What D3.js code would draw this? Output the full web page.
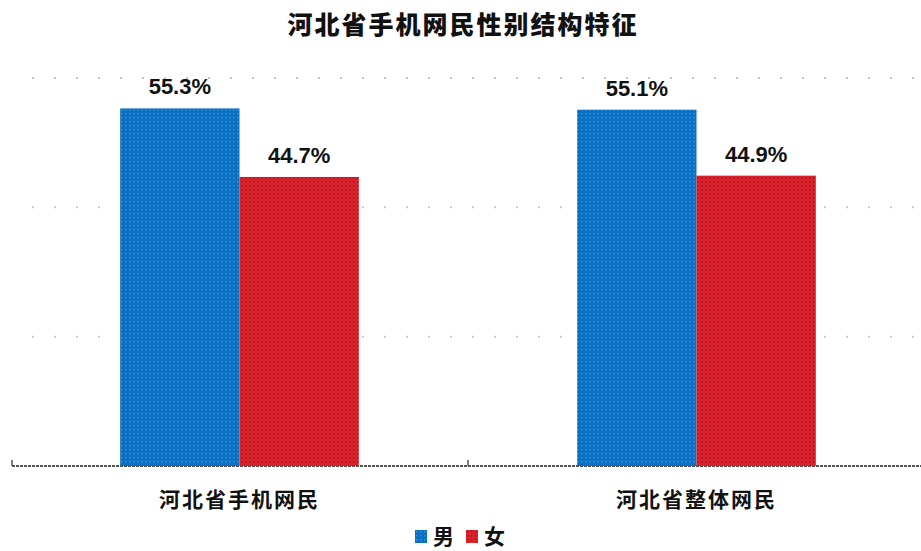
<!DOCTYPE html>
<html>
<head>
<meta charset="utf-8">
<script src="https://cdn.jsdelivr.net/npm/d3@7"></script>
<style>
  body { margin: 0; background: #fff; }
  .title { font-family: "Noto Sans CJK SC", sans-serif; font-weight: 900; font-size: 25px; letter-spacing: 2px; }
  .cat { font-family: "Noto Sans CJK SC", sans-serif; font-weight: 700; font-size: 21px; letter-spacing: 2px; }
  .val { font-family: "Liberation Sans", Arial, sans-serif; font-weight: bold; font-size: 22px; }
  .leg { font-family: "Noto Sans CJK SC", sans-serif; font-weight: 700; font-size: 21px; }
</style>
</head>
<body>
<script>
//// DATA
var categories = ["河北省手机网民", "河北省整体网民"];
var seriesNames = ["男", "女"];
var male = [55.3, 55.1];
var female = [44.7, 44.9];
var yTicks = [0, 20, 40, 60];

//// DIMENSIONS
var width = 921, height = 551;
var plot = {left: 11, right: 925, top: 78, bottom: 466};
var colors = {"男": "#0b6fc3", "女": "#d8222c"};

var svg = d3.select("body").append("svg")
    .attr("width", width)
    .attr("height", height);

// Dotted textures like the reference fills
var defs = svg.append("defs");
function addPattern(id, base, dot) {
	var p = defs.append("pattern")
		.attr("id", id)
		.attr("width", 4).attr("height", 4)
		.attr("patternUnits", "userSpaceOnUse");
	p.append("rect").attr("width", 4).attr("height", 4).attr("fill", base);
	p.append("rect").attr("x", 1).attr("y", 1).attr("width", 1.5).attr("height", 1.5).attr("fill", dot);
}
addPattern("pat-m", colors["男"], "#2b95d6");
addPattern("pat-f", colors["女"], "#a3161e");
var fills = {"男": "url(#pat-m)", "女": "url(#pat-f)"};

// Scales
var x0 = d3.scaleBand().domain(categories).range([plot.left, plot.right]).padding(0);
var x1 = d3.scaleBand().domain(seriesNames).range([0, x0.bandwidth()])
	.paddingInner(0).paddingOuter(0.915);
var y = d3.scaleLinear().domain([0, 60]).range([plot.bottom, plot.top]);

// Gridlines (dotted)
svg.selectAll(".grid")
	.data(yTicks.slice(1))
  .enter().append("line")
	.attr("class", "grid")
	.attr("x1", 32).attr("x2", width)
	.attr("y1", function(d) { return y(d); })
	.attr("y2", function(d) { return y(d); })
	.attr("stroke", "#c8c8c8")
	.attr("stroke-width", 2)
	.attr("stroke-dasharray", "2,20");

// Bars
var rows = categories.map(function(c, i) {
	return [{cat: c, s: "男", v: male[i]}, {cat: c, s: "女", v: female[i]}];
});
var bars = d3.merge(rows);

svg.selectAll(".bar")
	.data(bars)
  .enter().append("rect")
	.attr("class", "bar")
	.attr("x", function(d) { return x0(d.cat) + x1(d.s); })
	.attr("width", x1.bandwidth())
	.attr("y", function(d) { return y(d.v); })
	.attr("height", function(d) { return y(0) - y(d.v); })
	.attr("fill", function(d) { return fills[d.s]; });

// Value labels
svg.selectAll(".val")
	.data(bars)
  .enter().append("text")
	.attr("class", "val")
	.attr("x", function(d) { return x0(d.cat) + x1(d.s) + x1.bandwidth() / 2; })
	.attr("y", function(d) { return y(d.v) - 14; })
	.attr("text-anchor", "middle")
	.attr("fill", "#111")
	.text(function(d) { return d.v.toFixed(1) + "%"; });

// Baseline axis
var xAxis = svg.append("g")
	.attr("transform", "translate(0," + plot.bottom + ")");
xAxis.append("line")
	.attr("x1", 12).attr("x2", width)
	.attr("stroke", "#555")
	.attr("stroke-width", 2)
	.attr("stroke-dasharray", "3,1");
xAxis.selectAll(".tick")
	.data(categories)
  .enter().append("line")
	.attr("x1", function(d) { return Math.max(12, x0(d)); })
	.attr("x2", function(d) { return Math.max(12, x0(d)); })
	.attr("y1", -6).attr("y2", 0)
	.attr("stroke", "#555")
	.attr("stroke-width", 1.5);
xAxis.selectAll(".cat")
	.data(categories)
  .enter().append("text")
	.attr("class", "cat")
	.attr("x", function(d) { return x0(d) + x0.bandwidth() / 2; })
	.attr("y", 41)
	.attr("text-anchor", "middle")
	.attr("fill", "#111")
	.text(function(d) { return d; });

// Title
svg.append("text")
	.attr("class", "title")
	.attr("x", 463).attr("y", 34)
	.attr("text-anchor", "middle")
	.attr("fill", "#111")
	.text("河北省手机网民性别结构特征");

// Legend
var legendX = [415, 466];
var legend = svg.selectAll(".legend")
	.data(seriesNames)
  .enter().append("g")
	.attr("class", "legend")
	.attr("transform", function(d, i) { return "translate(" + legendX[i] + ",530)"; });
legend.append("rect")
	.attr("width", 12).attr("height", 13)
	.attr("fill", function(d) { return fills[d]; });
legend.append("text")
	.attr("class", "leg")
	.attr("x", 18).attr("y", 14)
	.attr("fill", "#111")
	.text(function(d) { return d; });
</script>
</body>
</html>
